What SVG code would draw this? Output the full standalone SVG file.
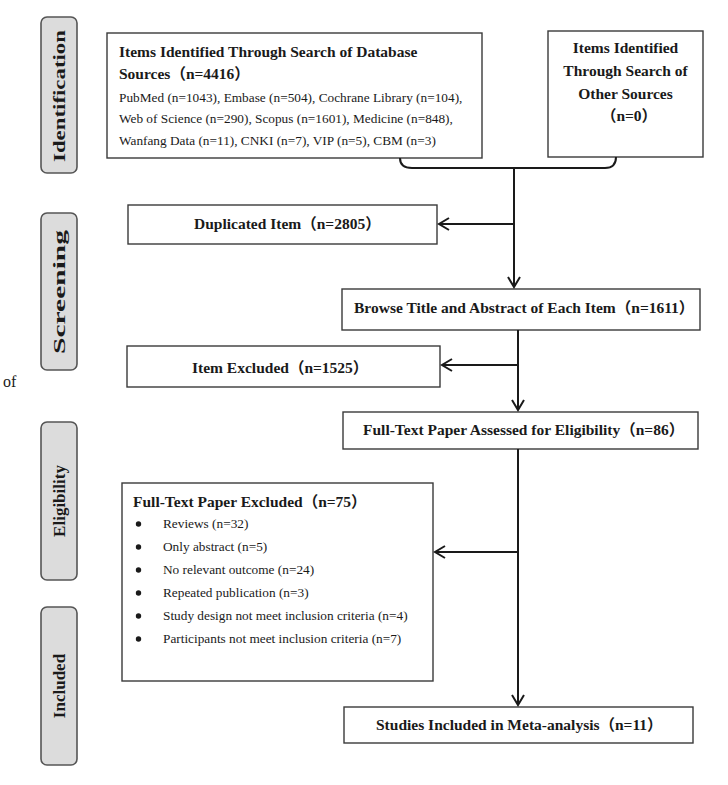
<svg xmlns="http://www.w3.org/2000/svg" width="728" height="785" viewBox="0 0 728 785">
<defs>
<style>
.box{fill:#fff;stroke:#3a3a3a;stroke-width:1.4}
.stage{fill:#dcdcdc;stroke:#555;stroke-width:1.6}
.b{font-family:"Liberation Serif","Noto Sans CJK SC",serif;font-weight:bold;font-size:15.5px;fill:#1a1a1a}
.r{font-family:"Liberation Serif","Noto Sans CJK SC",serif;font-size:13.3px;fill:#1a1a1a}
.st{font-family:"Liberation Serif",serif;font-weight:bold;font-size:17px;fill:#1a1a1a}
.c{fill:none;stroke:#1a1a1a;stroke-width:2}
</style>
<marker id="ah" viewBox="-12 -8 14 16" markerWidth="14" markerHeight="16" refX="0" refY="0" orient="auto" markerUnits="userSpaceOnUse">
<path d="M-10,-6 L0,0 L-10,6" fill="none" stroke="#1a1a1a" stroke-width="2"/>
</marker>
</defs>
<rect width="728" height="785" fill="#fff"/>
<text x="3" y="387" font-family="Liberation Serif,serif" font-size="16" fill="#1a1a1a">of</text>

<g id="stage-identification">
<rect class="stage" x="41" y="17" width="36" height="156" rx="6"/>
<text class="st" transform="translate(65,96) rotate(-90)" text-anchor="middle" textLength="132" lengthAdjust="spacingAndGlyphs">Identification</text>
</g>
<g id="stage-screening">
<rect class="stage" x="41" y="213" width="36" height="157" rx="6"/>
<text class="st" transform="translate(65,292) rotate(-90)" text-anchor="middle" textLength="124" lengthAdjust="spacingAndGlyphs">Screening</text>
</g>
<g id="stage-eligibility">
<rect class="stage" x="41" y="422" width="36" height="158" rx="6"/>
<text class="st" transform="translate(65,501) rotate(-90)" text-anchor="middle">Eligibility</text>
</g>
<g id="stage-included">
<rect class="stage" x="41" y="607" width="36" height="158" rx="6"/>
<text class="st" transform="translate(65,686) rotate(-90)" text-anchor="middle">Included</text>
</g>

<g id="db-sources">
<rect class="box" x="107" y="33" width="375" height="125"/>
<text class="b" x="119" y="57">Items Identified Through Search of Database</text>
<text class="b" x="119" y="79">Sources（n=4416）</text>
<text class="r" x="119" y="101.5">PubMed (n=1043), Embase (n=504), Cochrane Library (n=104),</text>
<text class="r" x="119" y="123">Web of Science (n=290), Scopus (n=1601), Medicine (n=848),</text>
<text class="r" x="119" y="144.5">Wanfang Data (n=11), CNKI (n=7), VIP (n=5), CBM (n=3)</text>
</g>
<g id="other-sources">
<rect class="box" x="548" y="31" width="155" height="126"/>
<text class="b" x="625.5" y="53" text-anchor="middle">Items Identified</text>
<text class="b" x="625.5" y="76" text-anchor="middle">Through Search of</text>
<text class="b" x="625.5" y="98.5" text-anchor="middle">Other Sources</text>
<text class="b" x="629" y="121" text-anchor="middle">（n=0）</text>
</g>
<g id="duplicated">
<rect class="box" x="128" y="205" width="309" height="39"/>
<text class="b" x="194" y="229">Duplicated Item（n=2805）</text>
</g>
<g id="browse">
<rect class="box" x="342" y="289" width="358" height="41"/>
<text class="b" x="354" y="313">Browse Title and Abstract of Each Item（n=1611）</text>
</g>
<g id="item-excluded">
<rect class="box" x="127" y="346" width="313" height="41"/>
<text class="b" x="192" y="373">Item Excluded（n=1525）</text>
</g>
<g id="fulltext-assessed">
<rect class="box" x="343" y="412" width="355" height="37"/>
<text class="b" x="363" y="435">Full-Text Paper Assessed for Eligibility（n=86）</text>
</g>
<g id="fulltext-excluded">
<rect class="box" x="122" y="483" width="311" height="198"/>
<text class="b" x="133" y="507">Full-Text Paper Excluded（n=75）</text>
<g fill="#1a1a1a">
<circle cx="138.5" cy="524" r="2.7"/>
<circle cx="138.5" cy="547" r="2.7"/>
<circle cx="138.5" cy="570" r="2.7"/>
<circle cx="138.5" cy="593" r="2.7"/>
<circle cx="138.5" cy="616" r="2.7"/>
<circle cx="138.5" cy="639" r="2.7"/>
</g>
<text class="r" x="163" y="528">Reviews (n=32)</text>
<text class="r" x="163" y="551">Only abstract (n=5)</text>
<text class="r" x="163" y="574">No relevant outcome (n=24)</text>
<text class="r" x="163" y="597">Repeated publication (n=3)</text>
<text class="r" x="163" y="620">Study design not meet inclusion criteria (n=4)</text>
<text class="r" x="163" y="643">Participants not meet inclusion criteria (n=7)</text>
</g>
<g id="studies-included">
<rect class="box" x="344" y="707" width="349" height="36"/>
<text class="b" x="376" y="730">Studies Included in Meta-analysis（n=11）</text>
</g>

<g id="connectors">
<path class="c" d="M400,158 Q400,168 412,168 L605,168 Q616,168 616,157"/>
<path class="c" d="M514,168 L514,287" marker-end="url(#ah)"/>
<path class="c" d="M514,224 L439,224" marker-end="url(#ah)"/>
<path class="c" d="M518,330 L518,410" marker-end="url(#ah)"/>
<path class="c" d="M518,365 L442,365" marker-end="url(#ah)"/>
<path class="c" d="M518,449 L518,705" marker-end="url(#ah)"/>
<path class="c" d="M518,552 L435,552" marker-end="url(#ah)"/>
</g>
</svg>
